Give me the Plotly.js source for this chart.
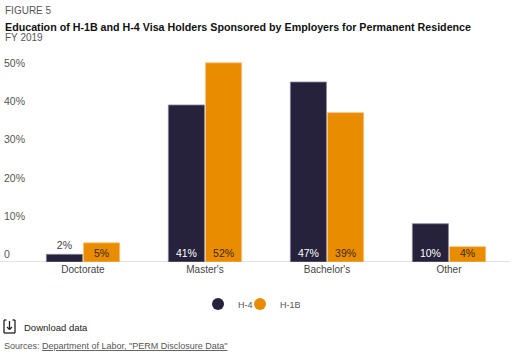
<!DOCTYPE html>
<html><head><meta charset="utf-8">
<script src="https://cdn.plot.ly/plotly-3.0.1.min.js"></script>
<style>html,body{margin:0;padding:0;background:#fff}#c{width:512px;height:355px}</style>
</head><body><div id="c"></div>
<script>
const categories = ["Doctorate", "Master's", "Bachelor's", "Other"];
const seriesNames = ["H-4", "H-1B"];
const h4 = [2, 41, 47, 10];
const h1b = [5, 52, 39, 4];
const yTicks = [0, 10, 20, 30, 40, 50];
const yTickText = ["0", "10%", "20%", "30%", "40%", "50%"];

const NAVY = "#27223B", ORANGE = "#EA8C00";
const FONT = "'Liberation Sans', Arial, sans-serif";
const W = 512, H = 355, L = 0, R = 2, T = 55, B = 93;
const PH = H - T - B, PW = W - L - R;
const px = p => (p - L) / PW;
const py = p => (H - B - p) / PH;

const pct = a => a.map(v => v + "%");
const traces = [
  {type: "bar", name: seriesNames[0], x: categories, y: h4, text: pct(h4),
   marker: {color: NAVY, line: {color: "#8a8799", width: 0.8}},
   textposition: h4.map(v => v < 3 ? "outside" : "inside"), insidetextanchor: "start",
   textfont: {family: FONT, size: 10.5},
   insidetextfont: {color: "#ffffff", family: FONT, size: 10.5},
   outsidetextfont: {color: "#444", family: FONT, size: 10.5},
   cliponaxis: false, constraintext: "none", showlegend: false, hoverinfo: "skip"},
  {type: "bar", name: seriesNames[1], x: categories, y: h1b, text: pct(h1b),
   marker: {color: ORANGE, line: {color: "#f3c27a", width: 0.8}},
   textposition: h1b.map(v => v < 3 ? "outside" : "inside"), insidetextanchor: "start",
   textfont: {family: FONT, size: 10.5},
   insidetextfont: {color: "#3a2a10", family: FONT, size: 10.5},
   outsidetextfont: {color: "#444", family: FONT, size: 10.5},
   cliponaxis: false, constraintext: "none", showlegend: false, hoverinfo: "skip"},
  {type: "scatter", mode: "markers", name: seriesNames[0], x: [null], y: [null],
   marker: {color: NAVY, size: 12}, showlegend: true, legend: "legend"},
  {type: "scatter", mode: "markers", name: seriesNames[1], x: [null], y: [null],
   marker: {color: ORANGE, size: 12}, showlegend: true, legend: "legend2"}
];

const line = (x0, y0, x1, y1, w) => ({type: "line", xref: "paper", yref: "paper",
  x0: px(x0), y0: py(y0), x1: px(x1), y1: py(y1), line: {color: "#222", width: w || 1.3}});

const legendBase = {orientation: "h", xanchor: "left", y: py(304), yanchor: "middle",
  font: {size: 9, color: "#555"}, itemwidth: 30, bgcolor: "rgba(0,0,0,0)"};

const layout = {
  width: W, height: H, margin: {l: L, r: R, t: T, b: B},
  paper_bgcolor: "#fff", plot_bgcolor: "#fff",
  font: {family: FONT, color: "#555", size: 10.5},
  barmode: "group", bargap: 0.39, bargroupgap: 0.03,
  xaxis: {domain: [px(22), 1], showgrid: false, zeroline: false, showline: false,
    ticks: "", tickfont: {size: 10, color: "#444"}, fixedrange: true},
  yaxis: {range: [0, 54.05], anchor: "free", position: 0, tickvals: yTicks, ticktext: yTickText,
    ticklabelposition: "inside top", showgrid: false, zeroline: false, showline: false,
    ticks: "", tickfont: {size: 10.5, color: "#555"}, fixedrange: true},
  legend: Object.assign({}, legendBase, {x: px(198)}),
  legend2: Object.assign({}, legendBase, {x: px(240)}),
  shapes: [
    {type: "line", xref: "paper", yref: "y", x0: 0, x1: 1, y0: 0, y1: 0,
     line: {color: "#e3e3e3", width: 2}, layer: "below"},
    line(4, 320, 4, 333), line(4, 333, 15, 333), line(15, 320, 15, 333),
    line(4, 320, 6.5, 320), line(12.5, 320, 15, 320),
    line(9.5, 321, 9.5, 329.5), line(7, 327, 9.5, 329.5), line(12, 327, 9.5, 329.5)
  ],
  annotations: [
    {xref: "paper", yref: "paper", x: px(3), y: py(11), xanchor: "left", yanchor: "middle",
     text: "FIGURE 5", showarrow: false, font: {size: 10, color: "#555"}},
    {xref: "paper", yref: "paper", x: px(3), y: py(27), xanchor: "left", yanchor: "middle",
     text: "<b>Education of H-1B and H-4 Visa Holders Sponsored by Employers for Permanent Residence</b>",
     showarrow: false, font: {size: 10.7, color: "#111"}},
    {xref: "paper", yref: "paper", x: px(3), y: py(37.5), xanchor: "left", yanchor: "middle",
     text: "FY 2019", showarrow: false, font: {size: 10, color: "#555"}},
    {xref: "paper", yref: "paper", x: px(22), y: py(327), xanchor: "left", yanchor: "middle",
     text: "Download data", showarrow: false, font: {size: 9.5, color: "#222"}},
    {xref: "paper", yref: "paper", x: px(2), y: py(346), xanchor: "left", yanchor: "middle",
     text: "Sources: <span style='text-decoration:underline'>Department of Labor, \"PERM Disclosure Data\"</span>",
     showarrow: false, font: {size: 9, color: "#555"}}
  ]
};

Plotly.newPlot("c", traces, layout, {displayModeBar: false, staticPlot: true});
</script></body></html>
